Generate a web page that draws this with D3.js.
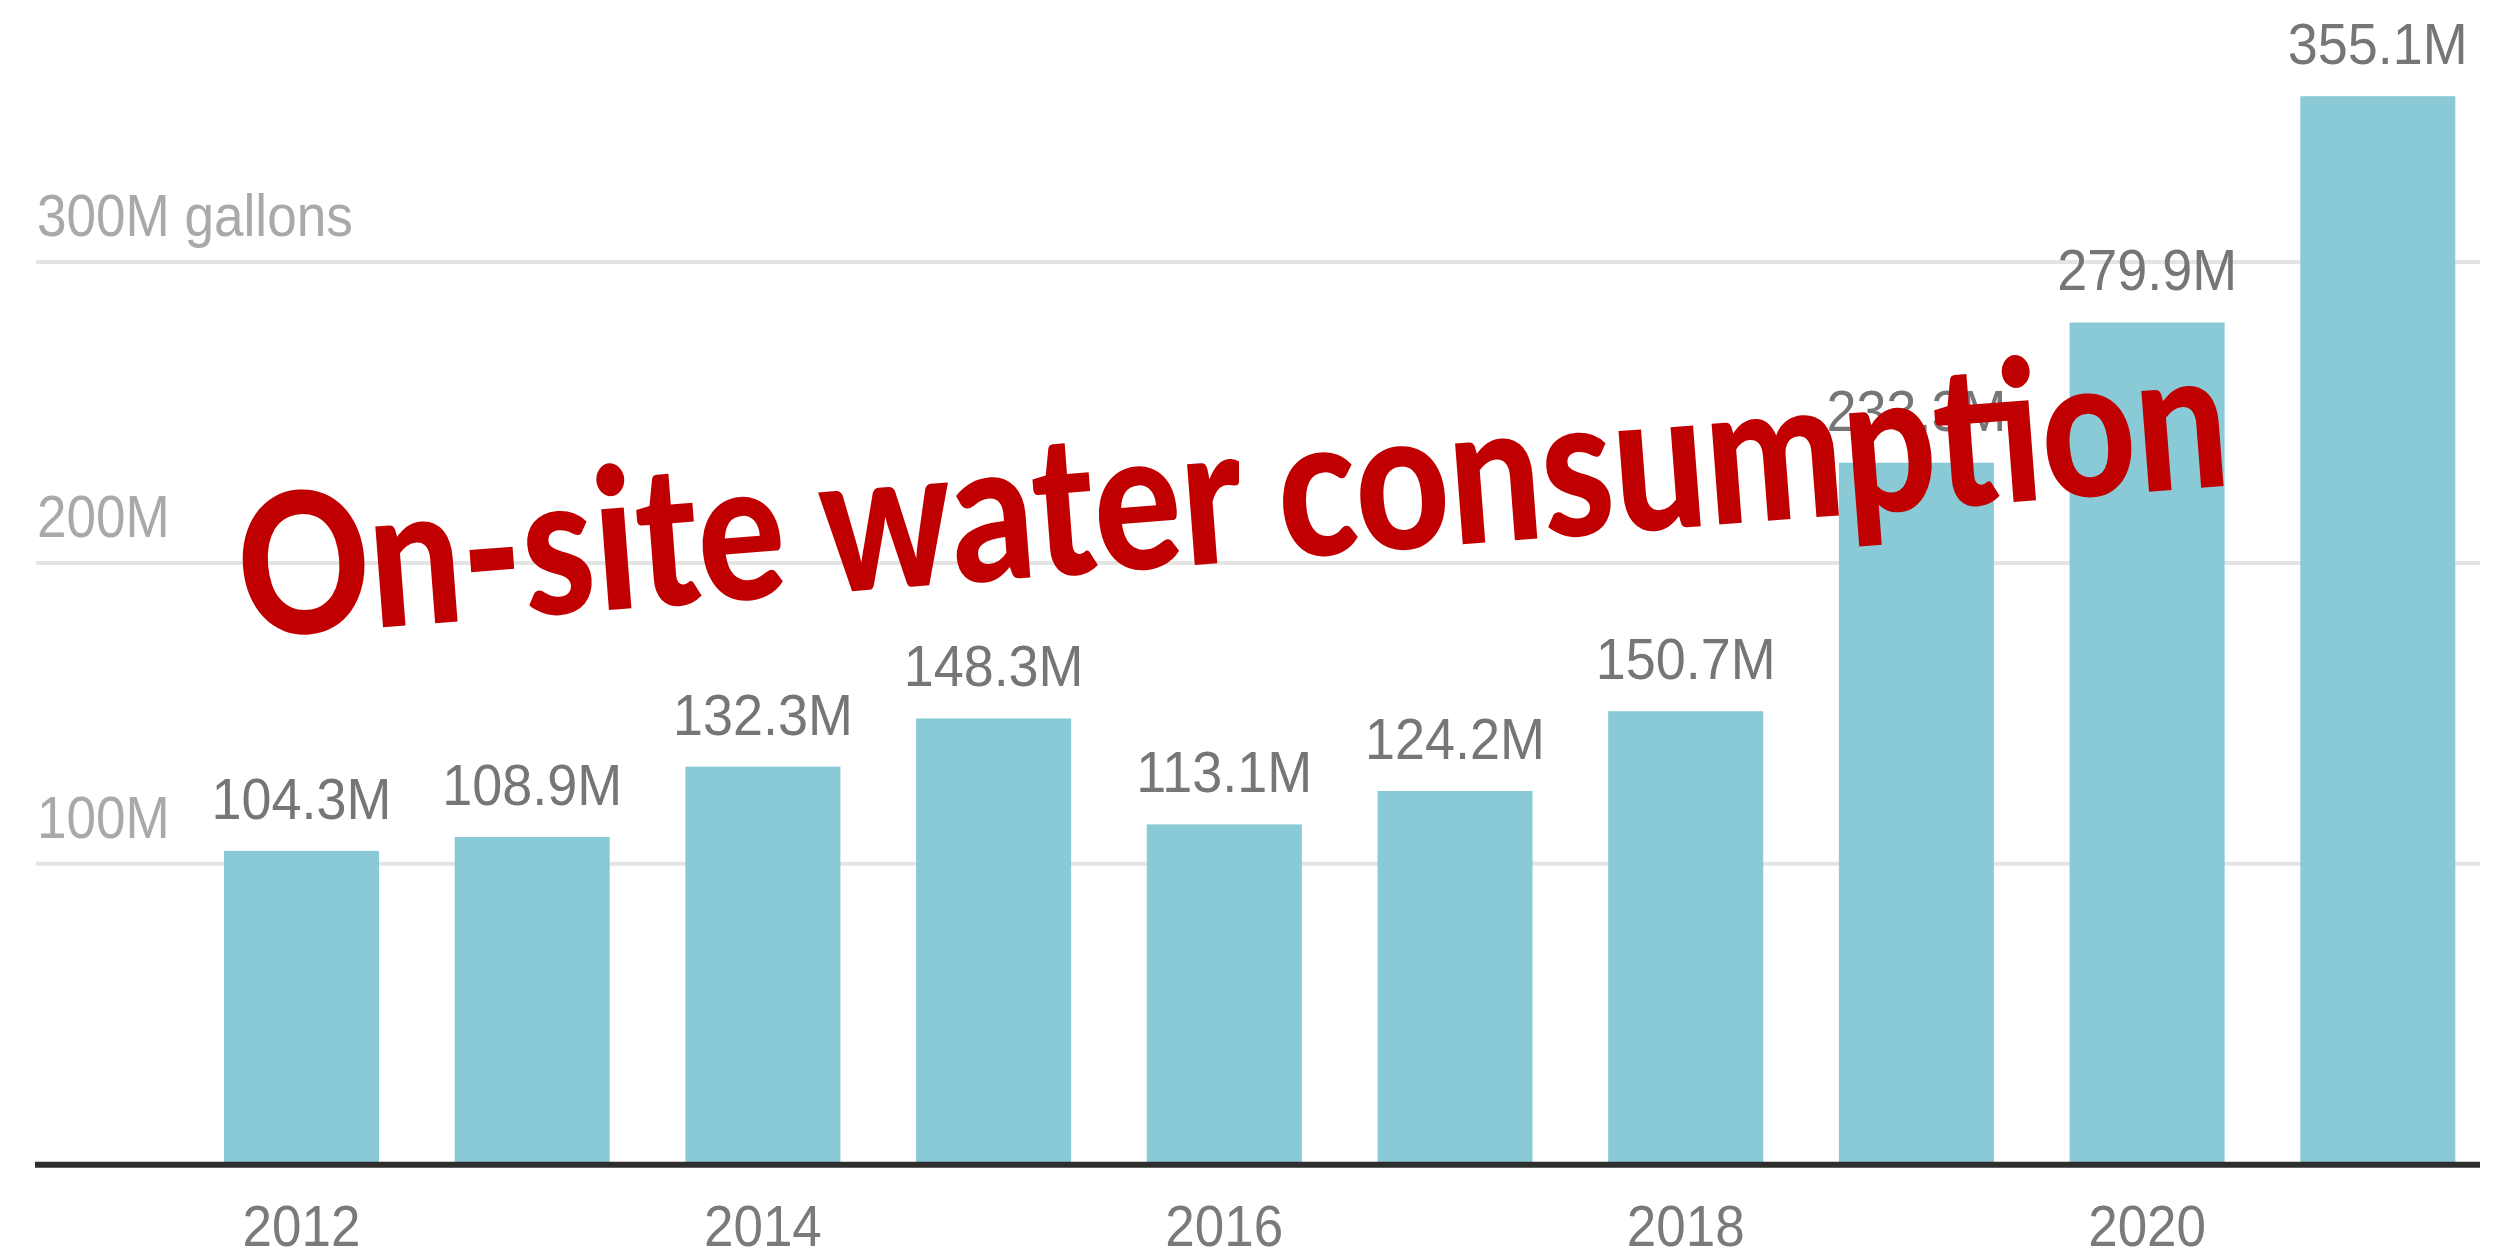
<!DOCTYPE html>
<html><head><meta charset="utf-8">
<script src="https://cdn.jsdelivr.net/npm/d3@7"></script>
<style>html,body{margin:0;padding:0;background:#fff;overflow:hidden}</style>
</head><body>
<svg id="chart" width="2515" height="1257"></svg>
<script>
// ---- data ----
const years = ["2012","2013","2014","2015","2016","2017","2018","2019","2020","2021"];
const values = [104.3, 108.9, 132.3, 148.3, 113.1, 124.2, 150.7, 233.3, 279.9, 355.1];
const valueLabels = ["104.3M","108.9M","132.3M","148.3M","113.1M","124.2M","150.7M","233.3M","279.9M","355.1M"];
const yTicks = [100, 200, 300];
const yTickLabels = ["100M", "200M", "300M gallons"];
const xTickYears = ["2012","2014","2016","2018","2020"];
const titleText = "On-site water consumption";

// ---- layout ----
const W = 2515, H = 1257;
const svg = d3.select("#chart");
svg.append("rect").attr("width", W).attr("height", H).attr("fill", "#fff");

const x = d3.scaleBand().domain(years).range([148.3, 2531]).paddingInner(0.328).paddingOuter(0.328);
const y = d3.scaleLinear().domain([0, 300]).range([1164.7, 262]);
const gridX0 = 36, gridX1 = 2480;
const sx = 0.93;

// gridlines
svg.append("g").selectAll("line").data(yTicks).join("line")
  .attr("x1", gridX0).attr("x2", gridX1)
  .attr("y1", d => y(d)).attr("y2", d => y(d))
  .attr("stroke", "#e4e4e4").attr("stroke-width", 4);

// y tick labels
svg.append("g").selectAll("text").data(yTicks).join("text")
  .attr("transform", d => `translate(${gridX0 + 1},${y(d) - 26}) scale(0.9,1)`)
  .attr("font-family", "Liberation Sans, Arial, sans-serif")
  .attr("font-size", 59).attr("fill", "#a9a9a9")
  .text((d, i) => yTickLabels[i]);

// bars
svg.append("g").selectAll("rect").data(values).join("rect")
  .attr("x", (d, i) => x(years[i]))
  .attr("width", x.bandwidth())
  .attr("y", d => y(d))
  .attr("height", d => y(0) - y(d))
  .attr("fill", "#89cad6");

// baseline
svg.append("line").attr("x1", gridX0 - 1).attr("x2", gridX1)
  .attr("y1", y(0)).attr("y2", y(0))
  .attr("stroke", "#2e2e2e").attr("stroke-width", 6);

// value labels
svg.append("g").selectAll("text").data(values).join("text")
  .attr("transform", (d, i) => `translate(${x(years[i]) + x.bandwidth() / 2},${y(d) - 32}) scale(${sx},1)`)
  .attr("text-anchor", "middle")
  .attr("font-family", "Liberation Sans, Arial, sans-serif")
  .attr("font-size", 58).attr("fill", "#767676")
  .text((d, i) => valueLabels[i]);

// x tick labels
svg.append("g").selectAll("text").data(xTickYears).join("text")
  .attr("transform", d => `translate(${x(d) + x.bandwidth() / 2},1246) scale(${sx},1)`)
  .attr("text-anchor", "middle")
  .attr("font-family", "Liberation Sans, Arial, sans-serif")
  .attr("font-size", 57).attr("fill", "#7a7a7a")
  .text(d => d);

// overlay title
svg.append("text")
  .attr("transform", "translate(243,638) rotate(-4.39)")
  .attr("font-family", "Lato, 'Open Sans', sans-serif")
  .attr("font-weight", 900)
  .attr("font-size", 196)
  .attr("fill", "#c00000")
  .attr("textLength", 1995)
  .attr("lengthAdjust", "spacingAndGlyphs")
  .text(titleText);
</script>
</body></html>
